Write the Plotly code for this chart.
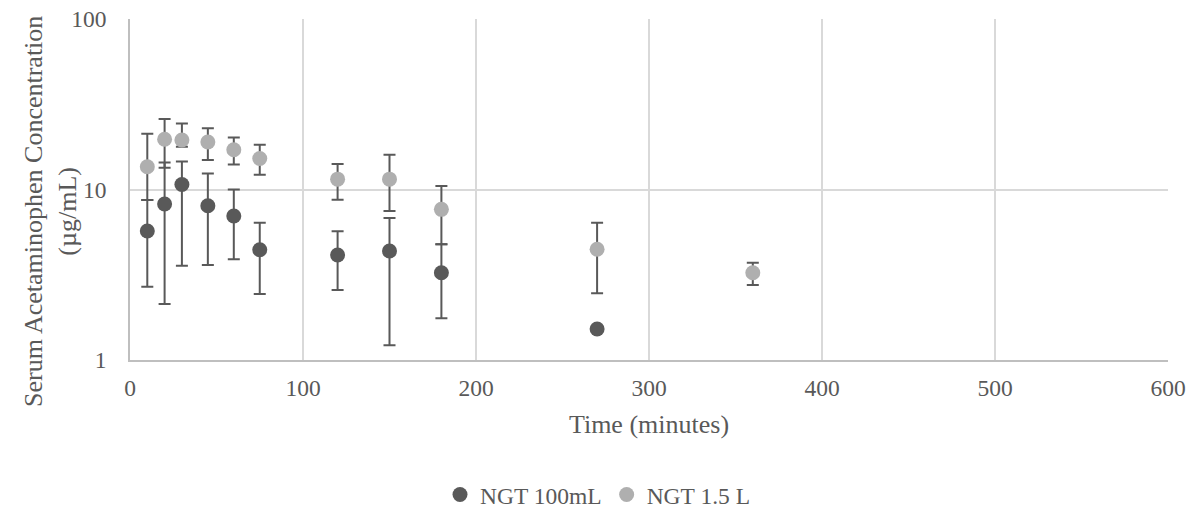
import plotly.graph_objects as go

# Time points (minutes)
time_100 = [10, 20, 30, 45, 60, 75, 120, 150, 180, 270]
time_15 = [10, 20, 30, 45, 60, 75, 120, 150, 180, 270, 360]

# NGT 100mL: mean, upper bound, lower bound
mean_100 = [5.71, 8.22, 10.7, 8.03, 6.99, 4.43, 4.13, 4.36, 3.25, 1.52]
upper_100 = [8.68, 14.4, 14.6, 12.4, 10.0, 6.39, 5.69, 6.8, 4.77, 1.52]
lower_100 = [2.69, 2.13, 3.57, 3.61, 3.9, 2.44, 2.57, 1.22, 1.76, 1.52]

# NGT 1.5 L: mean, upper bound, lower bound
mean_15 = [13.6, 19.7, 19.5, 19.0, 17.1, 15.2, 11.5, 11.5, 7.65, 4.46, 3.25]
upper_15 = [21.2, 25.9, 24.4, 22.9, 20.2, 18.3, 14.1, 16.0, 10.5, 6.39, 3.72]
lower_15 = [8.68, 13.4, 17.8, 14.9, 14.0, 12.2, 8.71, 7.48, 4.77, 2.46, 2.75]

x_ticks = [0, 100, 200, 300, 400, 500, 600]
y_ticks = [1, 10, 100]

x_title = "Time (minutes)"
y_title = "Serum Acetaminophen Concentration<br>(µg/mL)"

TXT = "#595959"
FONT = "Liberation Serif"
FS = 23.5      # tick labels and legend
FT = 26        # axis titles


def err(mean, up, lo):
    return dict(
        type="data", symmetric=False,
        array=[u - m for u, m in zip(up, mean)],
        arrayminus=[m - l for m, l in zip(mean, lo)],
        color="#595959", thickness=2, width=6,
    )


fig = go.Figure()
fig.add_trace(go.Scatter(
    x=time_100, y=mean_100, mode="markers", name="NGT 100mL",
    marker=dict(color="#595959", size=15),
    error_y=err(mean_100, upper_100, lower_100),
))
fig.add_trace(go.Scatter(
    x=time_15, y=mean_15, mode="markers", name="NGT 1.5 L",
    marker=dict(color="#afafaf", size=15),
    error_y=err(mean_15, upper_15, lower_15),
))

fig.update_layout(
    width=1195, height=508,
    margin=dict(l=130, r=27, t=19, b=148, autoexpand=False),
    paper_bgcolor="white", plot_bgcolor="white",
    font=dict(family=FONT, color=TXT, size=FS),
    showlegend=True,
    legend=dict(
        orientation="h", xref="container", x=0.5, xanchor="center",
        yref="container", y=0.026, yanchor="middle",
        font=dict(family=FONT, size=FS, color=TXT),
        itemwidth=30, tracegroupgap=0,
    ),
    annotations=[dict(
        text=y_title, textangle=-90, showarrow=False,
        xref="paper", x=0, xanchor="center", xshift=-80,
        yref="paper", y=0.434, yanchor="middle",
        align="center",
        font=dict(family=FONT, size=FT, color=TXT),
    )],
)
fig.update_xaxes(
    range=[0, 600], tickvals=x_ticks, automargin=False,
    showgrid=True, gridcolor="#d9d9d9", gridwidth=1.8,
    showline=True, linecolor="#bfbfbf", linewidth=1.8,
    zeroline=False, ticks="", ticklabelstandoff=6,
    tickfont=dict(family=FONT, size=FS, color=TXT),
    title=dict(text=x_title, standoff=15,
               font=dict(family=FONT, size=FT, color=TXT)),
)
fig.update_yaxes(
    type="log", range=[0, 2], tickvals=y_ticks, automargin=False,
    ticktext=[str(v) for v in y_ticks],
    showgrid=True, gridcolor="#d9d9d9", gridwidth=1.8,
    showline=True, linecolor="#bfbfbf", linewidth=1.8,
    zeroline=False, ticks="", ticklabelstandoff=17,
    tickfont=dict(family=FONT, size=FS, color=TXT),
)

fig.write_html("out.html")
